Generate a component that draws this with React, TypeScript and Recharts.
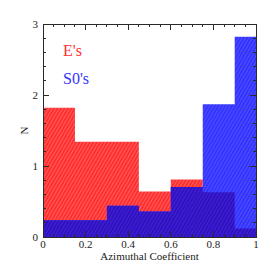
// Histogram of azimuthal coefficient for E's and S0's, drawn as filled step areas
// with a hatched fill; the region where the two overlap gets its own darker tint.
import { Area, ComposedChart, ReferenceArea, ReferenceLine, XAxis, YAxis } from "recharts";

const binEdges = [0, 0.15, 0.3, 0.45, 0.6, 0.75, 0.9, 1.0];
const eValues = [1.82, 1.34, 1.34, 0.64, 0.81, 0.63, 0.12];
const s0Values = [0.235, 0.235, 0.44, 0.36, 0.705, 1.87, 2.82];

const xMajor = [0, 0.2, 0.4, 0.6, 0.8, 1];
const xTicks = [0, 0.05, 0.1, 0.15, 0.2, 0.25, 0.3, 0.35, 0.4, 0.45, 0.5, 0.55, 0.6, 0.65, 0.7, 0.75, 0.8, 0.85, 0.9, 0.95, 1];
const yMajor = [0, 1, 2, 3];
const yTicks = [0, 0.2, 0.4, 0.6, 0.8, 1, 1.2, 1.4, 1.6, 1.8, 2, 2.2, 2.4, 2.6, 2.8, 3];

const SIZE = 279;
const MARGIN = { top: 24, right: 23, left: 5, bottom: 4 };
const AXIS_BOX = 38;
// plot box, used for the frame on the top/right sides
const PL = MARGIN.left + AXIS_BOX;
const PR = SIZE - MARGIN.right;
const PT = MARGIN.top;
const PB = SIZE - MARGIN.bottom - AXIS_BOX;

const AXIS = "#2a2a2a";
const FONT = "'Liberation Serif', serif";

// last edge repeats the last bin so the stepAfter line closes at x=1
const data = binEdges.map((x, i) => {
  const k = Math.min(i, eValues.length - 1);
  return { x, e: eValues[k], s: s0Values[k], o: Math.min(eValues[k], s0Values[k]) };
});

const isMajor = (list: number[], v: number) => list.some((m) => Math.abs(m - v) < 1e-6);

function BottomTick({ x, y, payload }: any) {
  const major = isMajor(xMajor, payload.value);
  return (
    <g>
      <line x1={x} y1={y} x2={x} y2={y - (major ? 6 : 3)} stroke={AXIS} shapeRendering="crispEdges" />
      {major && (
        <text x={x} y={y + 11} textAnchor="middle" fontSize={11} fontFamily={FONT} fill="#222">
          {payload.value}
        </text>
      )}
    </g>
  );
}

function LeftTick({ x, y, payload }: any) {
  const major = isMajor(yMajor, payload.value);
  return (
    <g>
      <line x1={x} y1={y} x2={x + (major ? 6 : 3)} y2={y} stroke={AXIS} shapeRendering="crispEdges" />
      {major && (
        <text x={x - 5} y={y + 4} textAnchor="end" fontSize={11} fontFamily={FONT} fill="#222">
          {payload.value}
        </text>
      )}
    </g>
  );
}

// mirrored ticks on the top and right edges: a reference line per tick, cut down to a stub
const topStub = (len: number) => (p: any) => {
  const top = Math.min(p.y1, p.y2);
  return <line x1={p.x1} y1={top} x2={p.x1} y2={top + len} stroke={AXIS} shapeRendering="crispEdges" />;
};
const rightStub = (len: number) => (p: any) => {
  const right = Math.max(p.x1, p.x2);
  return <line x1={right} y1={p.y1} x2={right - len} y2={p.y1} stroke={AXIS} shapeRendering="crispEdges" />;
};

function Hatch({ id, base, stripe }: { id: string; base: string; stripe: string }) {
  return (
    <pattern id={id} patternUnits="userSpaceOnUse" width={3} height={3} patternTransform="rotate(30)">
      <rect width={3} height={3} fill={base} />
      <line x1={0.5} y1={0} x2={0.5} y2={3} stroke={stripe} strokeWidth={1} />
    </pattern>
  );
}

// box frame with inward ticks on top and right, laid over the chart
function Frame() {
  const sx = (v: number) => PL + v * (PR - PL);
  const sy = (v: number) => PB - (v / 3) * (PB - PT);
  return (
    <svg width={SIZE} height={SIZE} style={{ position: "absolute", left: 0, top: 0, pointerEvents: "none" }}>
      <g stroke={AXIS} shapeRendering="crispEdges" fill="none">
        <rect x={PL} y={PT} width={PR - PL} height={PB - PT} />
        {xTicks.map((t) => (
          <line key={`fx${t}`} x1={sx(t)} y1={PT} x2={sx(t)} y2={PT + (isMajor(xMajor, t) ? 6 : 3)} />
        ))}
        {yTicks.map((t) => (
          <line key={`fy${t}`} x1={PR} y1={sy(t)} x2={PR - (isMajor(yMajor, t) ? 6 : 3)} y2={sy(t)} />
        ))}
      </g>
    </svg>
  );
}

export default function App() {
  return (
    <div style={{ position: "absolute", left: 0, top: 0, width: SIZE, height: SIZE, background: "#fff" }}>
      <ComposedChart width={SIZE} height={SIZE} data={data} margin={MARGIN}>
        <defs>
          <Hatch id="hRed" base="#ff2f2f" stripe="#ff5e5e" />
          <Hatch id="hBlue" base="#3434ff" stripe="#4e4eff" />
          <Hatch id="hBoth" base="#2f12c4" stripe="#4222cc" />
        </defs>
        <Area type="stepAfter" dataKey="e" stroke="none" fill="url(#hRed)" fillOpacity={1} isAnimationActive={false} />
        <Area type="stepAfter" dataKey="s" stroke="none" fill="url(#hBlue)" fillOpacity={1} isAnimationActive={false} />
        <Area type="stepAfter" dataKey="o" stroke="none" fill="url(#hBoth)" fillOpacity={1} isAnimationActive={false} />
        <ReferenceArea x1={0} x2={1} y1={0} y2={3} fill="none" fillOpacity={0} stroke={AXIS} strokeWidth={1}
          shapeRendering="crispEdges" ifOverflow="visible" />
        {xTicks.map((t) => (
          <ReferenceLine key={`tx${t}`} x={t} stroke={AXIS} ifOverflow="visible"
            shape={topStub(isMajor(xMajor, t) ? 6 : 3)} />
        ))}
        {yTicks.map((t) => (
          <ReferenceLine key={`ty${t}`} y={t} stroke={AXIS} ifOverflow="visible"
            shape={rightStub(isMajor(yMajor, t) ? 6 : 3)} />
        ))}
        <XAxis dataKey="x" type="number" domain={[0, 1]} ticks={xTicks} interval={0} height={AXIS_BOX}
          tickSize={0} tickMargin={0} tickLine={false} axisLine={false} tick={<BottomTick />}
          label={{ value: "Azimuthal Coefficient", position: "center", fontSize: 11, fontFamily: FONT, fill: "#222" }} />
        <YAxis type="number" domain={[0, 3]} ticks={yTicks} interval={0} width={AXIS_BOX}
          tickSize={0} tickMargin={0} tickLine={false} axisLine={false} tick={<LeftTick />}
          label={{ value: "N", angle: -90, position: "center", fontSize: 11, fontFamily: FONT, fill: "#222" }} />
      </ComposedChart>
      <Frame />
      <div style={{ position: "absolute", left: 63, top: 42, fontFamily: FONT, fontSize: 16, color: "#ff2f2f" }}>E's</div>
      <div style={{ position: "absolute", left: 63, top: 70, fontFamily: FONT, fontSize: 16, color: "#3434ff" }}>S0's</div>
    </div>
  );
}
